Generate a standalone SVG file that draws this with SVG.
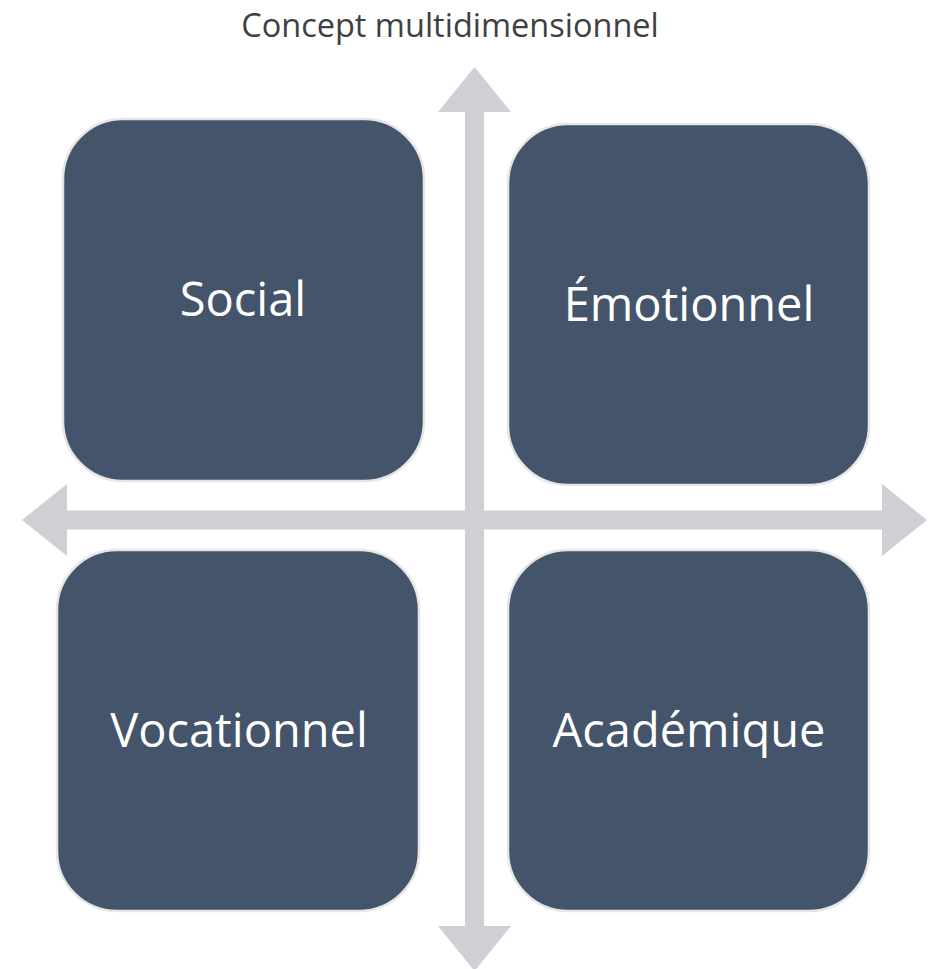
<svg xmlns="http://www.w3.org/2000/svg" width="938" height="969" viewBox="0 0 938 969">
<style>
.box{fill:#44546A;stroke:#E6E6E6;stroke-width:2.5}
.lbl{fill:#FFFFFF;font-family:"Open Sans","Liberation Sans",sans-serif;font-size:47px;text-anchor:middle}
.title{fill:#404040;font-family:"Open Sans","Liberation Sans",sans-serif;font-size:32.5px;text-anchor:middle}
.arr{fill:#CFD0D5}
</style>
<rect width="938" height="969" fill="#FFFFFF"/>
<text class="title" x="450" y="37">Concept multidimensionnel</text>
<g id="connectors">
<polygon class="arr" points="474.5,67 511,112 484,112 484,926 511,926 474.5,971 438,926 465,926 465,112 438,112"/>
<polygon class="arr" points="22,520 67,484 67,510.5 882,510.5 882,484 927,520 882,556 882,529.5 67,529.5 67,556"/>
</g>
<g id="social">
<rect class="box" x="63" y="119" width="361" height="362" rx="60"/>
<text class="lbl" x="243" y="316">Social</text>
</g>
<g id="emotionnel">
<rect class="box" x="508" y="124" width="361" height="361" rx="60"/>
<text class="lbl" x="689" y="321">Émotionnel</text>
</g>
<g id="vocationnel">
<rect class="box" x="57" y="550" width="362" height="361" rx="60"/>
<text class="lbl" x="239" y="747">Vocationnel</text>
</g>
<g id="academique">
<rect class="box" x="508" y="550" width="361" height="361" rx="60"/>
<text class="lbl" x="689" y="747">Académique</text>
</g>
</svg>
